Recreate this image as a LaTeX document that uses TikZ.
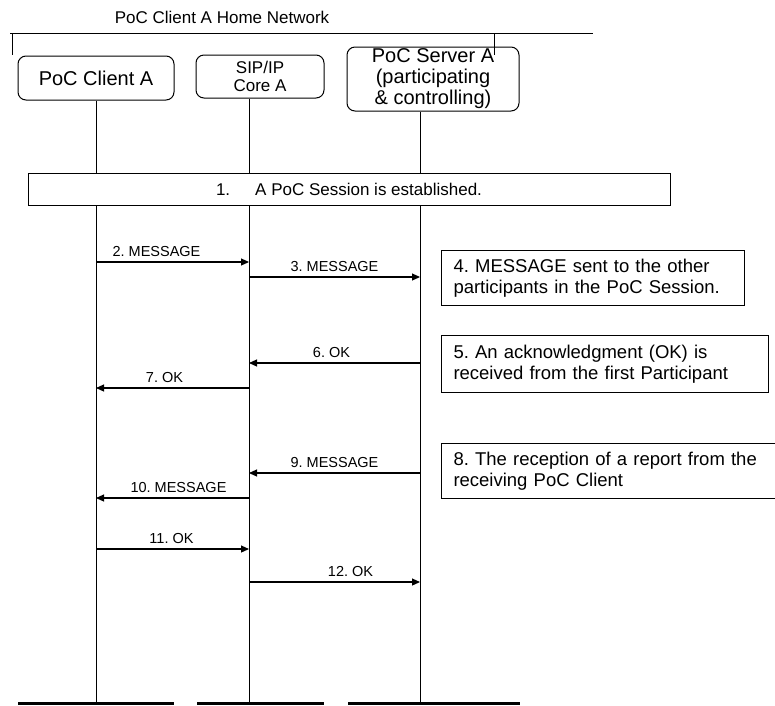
\documentclass[tikz,border=0pt]{standalone}
\usepackage{fontspec}
\setmainfont{Liberation Sans}
\usepackage{tikz}
\usetikzlibrary{positioning, arrows.meta, calc}
\frenchspacing

\tikzset{
  entity/.style={draw, rounded corners=8pt, line width=1pt, align=center, inner sep=0pt},
  lifeline/.style={line width=1pt},
  msg/.style={line width=1.1pt, -{Triangle[length=8pt, width=7pt]}},
  msglabel/.style={anchor=base, yshift=6pt, inner sep=0pt, font=\fontsize{14.5}{16}\selectfont},
  notebox/.style={draw, line width=1pt, fill=white, anchor=north west, align=left,
                  inner xsep=12pt, inner ysep=0pt, font=\fontsize{18.5}{21.5}\selectfont},
  endbar/.style={line width=3pt},
}

\begin{document}
\begin{tikzpicture}[x=1pt, y=-1pt]
  \useasboundingbox (0,0) rectangle (775,705);

  % home network
  \node[font=\fontsize{17}{20}\selectfont] (network) at (222,17) {PoC Client A Home Network};
  \draw[line width=1pt] (10,33) -- (593,33);
  \draw[line width=1pt] (12,33) -- (12,55);
  \draw[line width=1pt] (494,33) -- (494,55);

  % entities
  \node[entity, minimum width=156pt, minimum height=44pt, font=\fontsize{20}{22}\selectfont]
    (clientA) at (96,78) {PoC Client A};
  \node[entity, minimum width=128pt, minimum height=43pt, font=\fontsize{17}{18}\selectfont]
    (sipA) at (260,76.5) {SIP/IP\\Core A};
  \node[entity, minimum width=172pt, minimum height=64pt, font=\fontsize{20}{21}\selectfont]
    (serverA) at (433,79) {PoC Server A\\(participating\\\& controlling)};

  % lifelines and end bars
  \coordinate (clientEnd) at (96,703);
  \coordinate (sipEnd) at (249,703);
  \coordinate (serverEnd) at (420,703);
  \draw[endbar] (18,703) -- (174,703);
  \draw[endbar] (197,703) -- (324,703);
  \draw[endbar] (348,703) -- (520,703);
  \draw[lifeline] (clientA.south -| clientEnd) -- (clientEnd);
  \draw[lifeline] (sipA.south -| sipEnd) -- (sipEnd);
  \draw[lifeline] (serverA.south -| serverEnd) -- (serverEnd);

  % step 1
  \node[draw, fill=white, line width=1pt, minimum width=642pt, minimum height=32pt,
        font=\fontsize{17}{20}\selectfont]
    (step1) at (349,189) {1.\hspace{25pt}A PoC Session is established.};

  % messages
  \draw[msg] (clientEnd |- 0,262) -- node[msglabel, xshift=-16pt] {2. MESSAGE} (sipEnd |- 0,262);
  \draw[msg] (sipEnd |- 0,277) -- node[msglabel] {3. MESSAGE} (serverEnd |- 0,277);
  \draw[msg] (serverEnd |- 0,363) -- node[msglabel, xshift=-3pt] {6. OK} (sipEnd |- 0,363);
  \draw[msg] (sipEnd |- 0,388) -- node[msglabel, xshift=-8pt] {7. OK} (clientEnd |- 0,388);
  \draw[msg] (serverEnd |- 0,473) -- node[msglabel] {9. MESSAGE} (sipEnd |- 0,473);
  \draw[msg] (sipEnd |- 0,498) -- node[msglabel, xshift=6pt] {10. MESSAGE} (clientEnd |- 0,498);
  \draw[msg] (clientEnd |- 0,549) -- node[msglabel, xshift=-1pt] {11. OK} (sipEnd |- 0,549);
  \draw[msg] (sipEnd |- 0,582) -- node[msglabel, xshift=16pt] {12. OK} (serverEnd |- 0,582);

  % notes
  \node[notebox, minimum width=303pt, minimum height=55pt, text width=279pt]
    (note4) at (441,250) {4. MESSAGE sent to the other\\participants in the PoC Session.};
  \node[notebox, minimum width=327pt, minimum height=57pt, text width=303pt]
    (note5) at (441,335) {5. An acknowledgment (OK) is\\received from the first Participant};
  \node[notebox, minimum width=345pt, minimum height=55pt, text width=321pt]
    (note8) at (441,443) {8. The reception of a report from the\\receiving PoC Client};
\end{tikzpicture}
\end{document}
